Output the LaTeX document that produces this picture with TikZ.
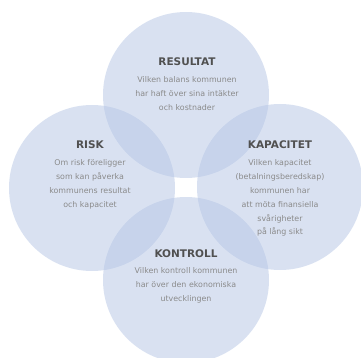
\documentclass[tikz,border=0pt]{standalone}
\usepackage{fontspec}
\setmainfont{DejaVu Sans}
\definecolor{circfill}{HTML}{B4C4E4}
\definecolor{headcol}{HTML}{505050}
\definecolor{bodycol}{HTML}{8A8A8A}
\begin{document}
\begin{tikzpicture}[x=1pt,y=-1pt,
  bubble/.style={circle, fill=circfill, fill opacity=0.5, draw=none, minimum size=166pt, inner sep=0pt},
  heading/.style={text=headcol, font=\fontsize{10.5}{12}\selectfont\bfseries, inner sep=0pt},
  bodytext/.style={text=bodycol, font=\fontsize{7.9}{13.9}\selectfont, align=center, inner sep=0pt}]
\useasboundingbox (0,0) rectangle (361,358);
\clip (0,0) rectangle (361,358);
\node[bubble] (ctop) at (186,95) {};
\node[bubble] (cleft) at (92,188) {};
\node[bubble] (cright) at (280,187) {};
\node[bubble] (cbot) at (186,280) {};
\node[heading] (hres) at (187,62) {RESULTAT};
\node[bodytext] (bres) at (187,93.5) {Vilken balans kommunen\\har haft över sina intäkter\\och kostnader};
\node[heading] (hrisk) at (90,145) {RISK};
\node[bodytext] (brisk) at (90,184) {Om risk föreligger\\som kan påverka\\kommunens resultat\\och kapacitet};
\node[heading] (hkap) at (280,145) {KAPACITET};
\node[bodytext] (bkap) at (280,198) {Vilken kapacitet\\(betalningsberedskap)\\kommunen har\\att möta finansiella\\svårigheter\\på lång sikt};
\node[heading] (hkon) at (186,254) {KONTROLL};
\node[bodytext] (bkon) at (186,285.5) {Vilken kontroll kommunen\\har över den ekonomiska\\utvecklingen};
\end{tikzpicture}
\end{document}
